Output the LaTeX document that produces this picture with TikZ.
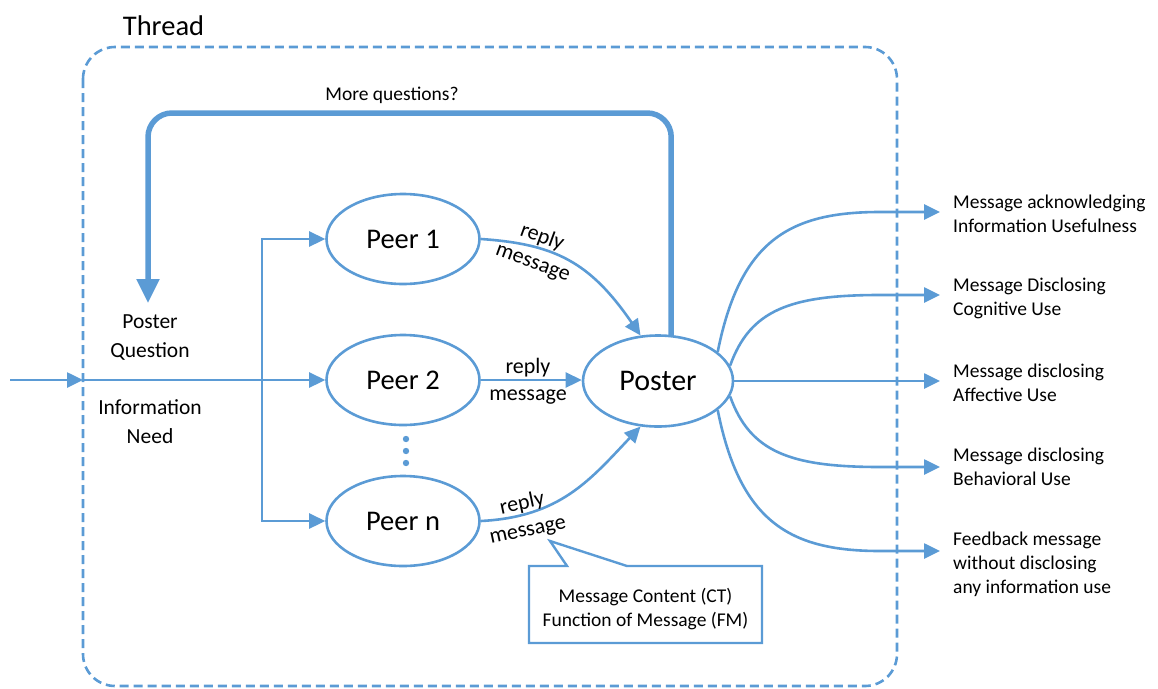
\documentclass[tikz,border=0pt]{standalone}
\usepackage{fontspec}
\setmainfont{Carlito}
\usetikzlibrary{arrows.meta,shapes.geometric}
\definecolor{flow}{HTML}{5B9BD5}

\tikzset{
  every node/.style={inner sep=0pt, text=black},
  bubble/.style={ellipse, draw=flow, line width=2.6pt, minimum width=153pt, minimum height=90pt,
    font=\fontsize{28.5}{34}\selectfont},
  link/.style={draw=flow, line width=2.6pt, -{Triangle[length=16pt,width=15pt]}},
  loopback/.style={draw=flow, line width=5.5pt, rounded corners=24pt, -{Triangle[length=24pt,width=22pt]}},
  boundary/.style={draw=flow, line width=2.6pt, dash pattern=on 9pt off 5pt, rounded corners=32pt},
  small/.style={font=\fontsize{19.5}{24}\selectfont},
  side/.style={font=\fontsize{21.5}{29}\selectfont, align=center},
  replylbl/.style={font=\fontsize{22}{27}\selectfont, align=center},
  outcome/.style={font=\fontsize{19.5}{24}\selectfont, align=left, anchor=base west},
}

\begin{document}
\begin{tikzpicture}[x=1pt, y=-1pt]
\useasboundingbox (0,0) rectangle (1158,688);

% thread boundary and its title
\draw[boundary] (83,47) rectangle (897,686);
\node[anchor=base west, font=\fontsize{28.5}{34}\selectfont] (thread) at (122.7,35) {Thread};

% participants
\node[bubble] (peer1) at (403,239) {Peer 1};
\node[bubble] (peer2) at (403,380) {Peer 2};
\node[bubble] (peern) at (403,521) {Peer n};
\node[bubble, minimum width=150pt, minimum height=91pt, font=\fontsize{30}{36}\selectfont] (poster) at (658,381) {Poster};

% ellipsis between Peer 2 and Peer n
\foreach \yy in {439,451,463} \fill[flow] (406,\yy) circle (3.2pt);

% question enters the thread and fans out to the peers
\coordinate (src) at (10,380);
\coordinate (gate) at (83,380);
\coordinate (branch) at (262,380);
\draw[link] (src) -- (gate);
\draw[link] (gate) -- (peer2);
\draw[link] (branch) |- (peer1.west);
\draw[link] (branch) |- (peern.west);

% (base anchor of a multi-line node sits on its last line)
\node[side, anchor=base] (pq) at (150,357) {Poster\\Question};
\node[side, anchor=base] (need) at (150,443) {Information\\Need};

% replies back to the poster
\draw[link] (peer1.east) .. controls (555,244) and (590,262) .. (poster.111);
\draw[link] (peer2) -- (poster.west |- peer2);
\draw[link] (peern.east) .. controls (560,517) and (590,480) .. (poster.-111);

\node[replylbl, rotate=-20] (r1) at (537.5,250) {reply\\message};
\node[replylbl, anchor=base] (r2) at (528,400) {reply\\message};
\node[replylbl, rotate=12] (rn) at (525,517) {reply\\message};

% loop for follow-up questions
\coordinate (loopL) at (148,113);
\coordinate (qtip) at (148,303);
\draw[loopback] (poster.74) |- (loopL) -- (qtip);
\node[small, anchor=base] (more) at (392,100) {More questions?};

% annotation callout
\draw[draw=flow, line width=2.4pt, line join=miter]
  (529,566) -- (567,566) -- (550,541) -- (627,566) -- (762,566) -- (762,643) -- (529,643) -- cycle;
\node[small, align=center, anchor=base] (note) at (645.5,626) {Message Content (CT)\\Function of Message (FM)};

% kinds of feedback messages
\coordinate (t1) at (940,212);
\coordinate (t2) at (940,295);
\coordinate (t3) at (940,381);
\coordinate (t4) at (940,467);
\coordinate (t5) at (940,551);
\draw[link] (poster.26) .. controls (740,240) and (790,212) .. (880,212) -- (t1);
\draw[link] (poster.12) .. controls (750,310) and (790,295) .. (880,295) -- (t2);
\draw[link] (poster.east) -- (t3);
\draw[link] (poster.-12) .. controls (750,452) and (790,467) .. (880,467) -- (t4);
\draw[link] (poster.-26) .. controls (740,522) and (790,551) .. (880,551) -- (t5);

\node[outcome] (o1) at (953,232) {Message acknowledging\\Information Usefulness};
\node[outcome] (o2) at (953,315) {Message Disclosing\\Cognitive Use};
\node[outcome] (o3) at (953,401) {Message disclosing\\Affective Use};
\node[outcome] (o4) at (953,485) {Message disclosing\\Behavioral Use};
\node[outcome] (o5) at (953,593) {Feedback message\\without disclosing\\any information use};
\end{tikzpicture}
\end{document}
